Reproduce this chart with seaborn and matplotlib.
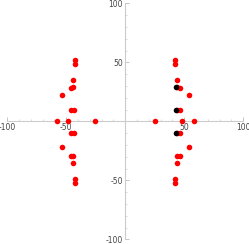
import matplotlib
matplotlib.use("Agg")
import matplotlib.pyplot as plt
import seaborn as sns
import pandas as pd
from matplotlib.ticker import MultipleLocator, FixedLocator

sns.set_style("white")
plt.rcParams['font.family'] = ['DejaVu Sans']

red_x = [25.3, 48.5, 58, -25.3, -48.5, -58,
         46.2, 43.5, 46.2, 43.5, -46.2, -43.5, -46.2, -43.5,
         53.8, 53.8, -53.8, -53.8,
         46.2, 44.2, 46.2, 44.2, -46.2, -44.2, -46.2, -44.2,
         44.2, 44.2, -44.2, -44.2,
         42.2, 42.2, -42.2, -42.2, 42.2, 42.2, -42.2, -42.2]
red_y = [0, 0, 0, 0, 0, 0,
         10, 10, -10, -10, 10, 10, -10, -10,
         22, -22, 22, -22,
         28.7, 29.5, -29.5, -29.5, 28.7, 29.5, -29.5, -29.5,
         35, -35, 35, -35,
         48.5, -48.5, 48.5, -48.5, 52, -52, 52, -52]
black_x = [43.4, 43.4, 43.4]
black_y = [10, 29, -10]

red = pd.DataFrame({"x": red_x, "y": red_y})
black = pd.DataFrame({"x": black_x, "y": black_y})

fig = plt.figure(figsize=(2.49, 2.44), dpi=100)
ax = fig.add_axes([0.029, 0.0193, 0.948, 0.9664])
sns.scatterplot(data=red, x="x", y="y", color="#ff0000", s=16, linewidth=0, ax=ax, zorder=3)
sns.scatterplot(data=black, x="x", y="y", color="#000000", s=16, linewidth=0, ax=ax, zorder=4)

ax.set_xlim(-100, 100)
ax.set_ylim(-100, 100)
ax.set_xlabel("")
ax.set_ylabel("")
for s in ["top", "right"]:
    ax.spines[s].set_visible(False)
for s in ["left", "bottom"]:
    ax.spines[s].set_position("zero")
    ax.spines[s].set_color("#cccccc")
    ax.spines[s].set_linewidth(0.8)
    ax.spines[s].set_clip_on(False)

ax.xaxis.set_major_locator(FixedLocator([-100, -50, 50, 100]))
ax.yaxis.set_major_locator(FixedLocator([-100, -50, 50, 100]))
ax.xaxis.set_minor_locator(MultipleLocator(10))
ax.yaxis.set_minor_locator(MultipleLocator(10))
ax.tick_params(which="major", direction="in", length=3, width=0.6, color="#bbbbbb",
               labelsize=5.5, labelcolor="#444444", pad=1.5)
ax.tick_params(which="minor", direction="in", length=1.6, width=0.5, color="#cccccc")
ax.tick_params(axis="x", which="both", bottom=True, top=False)
ax.tick_params(axis="y", which="both", left=True, right=False)
ax.set_xticklabels(["-100", "-50", "50", "100"])
ax.set_yticklabels(["-100", "-50", "50", "100"])
ax.patch.set_alpha(0)

fig.savefig("out.png", dpi=100)
